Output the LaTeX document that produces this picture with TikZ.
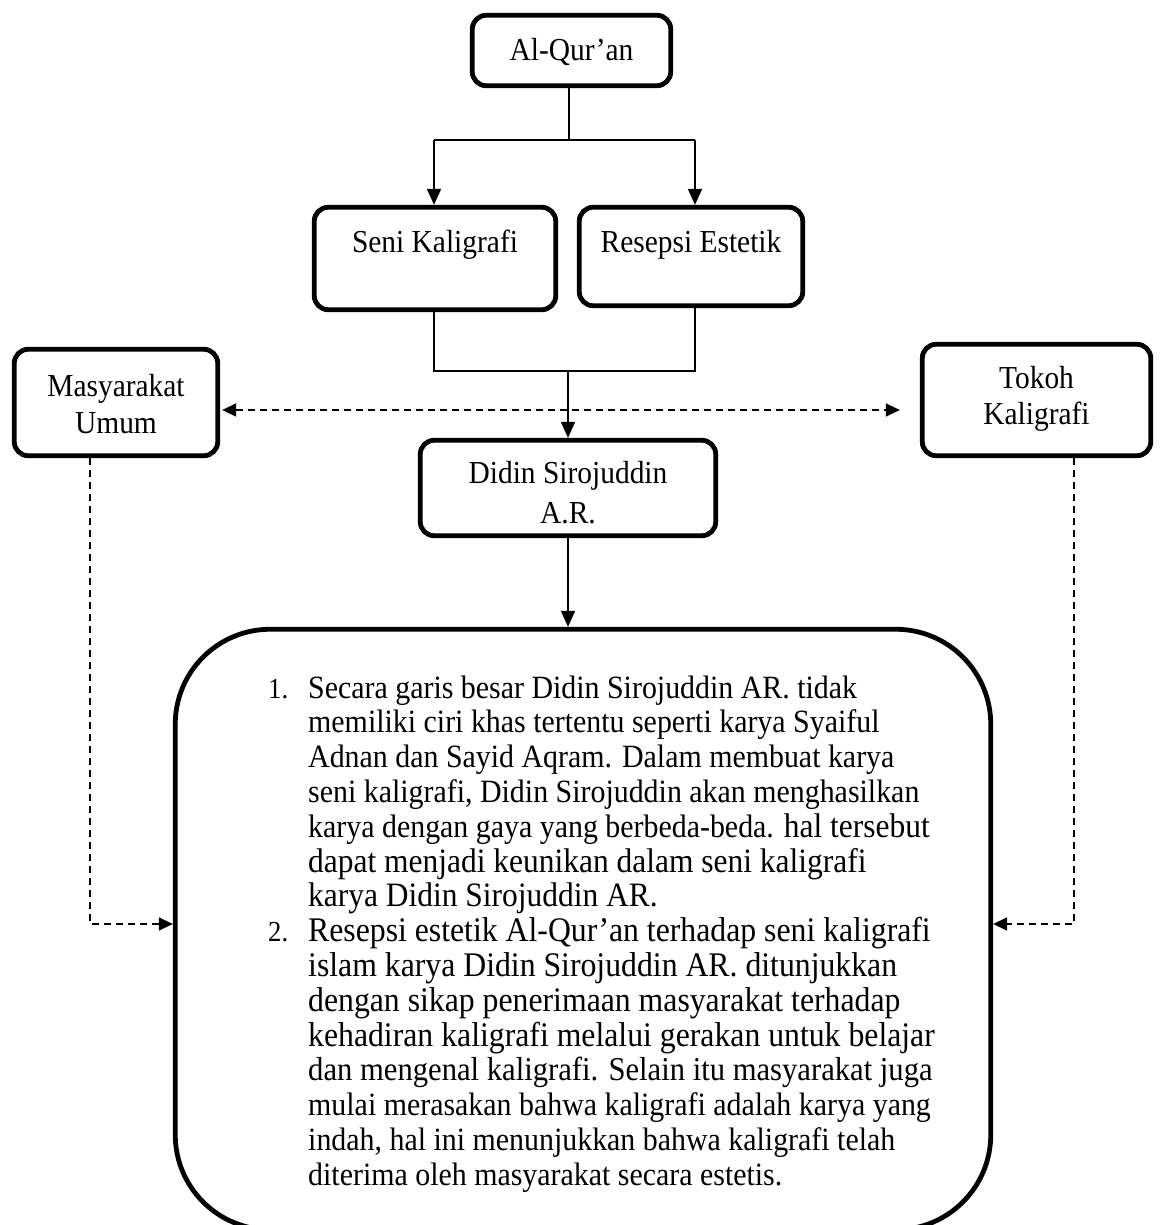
\documentclass[tikz,border=0pt]{standalone}
\usepackage{fontspec}
\setmainfont{Liberation Serif}[FakeStretch=0.92]
\usetikzlibrary{arrows.meta,calc}
\newcommand\boxfont{\fontsize{32}{37}\selectfont}
\newcommand\listfont{\fontsize{32.5}{34.8}\selectfont}
\newcommand\wider{\fontsize{34.5}{34.8}\selectfont}
\newcommand\widish{\fontsize{33.3}{34.8}\selectfont}
\newcommand\bigger{\fontsize{34.2}{34.8}\selectfont}
\newcommand\numfont{\fontsize{29}{34.8}\selectfont}
% strut with height #1 and depth #2 (in pt)
\newcommand\ls[2]{\rule[-#2pt]{0pt}{\dimexpr#1pt+#2pt\relax}}
\begin{document}
\begin{tikzpicture}[x=1pt,y=-1pt,
  box/.style={draw, line width=4.8pt, rounded corners=14pt, align=center,
    font=\boxfont, inner sep=0pt},
  conn/.style={line width=1.8pt},
  arr/.style={conn, -{Triangle[length=16pt,width=14pt]}},
  darr/.style={line width=1.6pt, dash pattern=on 7pt off 5pt,
    -{Triangle[length=14pt,width=13pt]}},
  bdarr/.style={line width=1.6pt, dash pattern=on 7pt off 5pt,
    {Triangle[length=14pt,width=13pt]}-{Triangle[length=14pt,width=13pt]}},
]
\clip (0,0) rectangle (1162,1225);
\fill[white] (0,0) rectangle (1162,1225);

% boxes
\node[box, minimum width=198.5pt, minimum height=70.5pt] (quran) at (571.5,50.5) {\ls{25}{4}Al-Qur’an};
\node[box, minimum width=241.5pt, minimum height=102.5pt] (seni) at (435,258.5) {\ls{36}{11}Seni Kaligrafi\\\ls{0}{11}};
\node[box, minimum width=223.5pt, minimum height=98.5pt] (resepsi) at (691,256.5) {\ls{40}{11}Resepsi Estetik\\\ls{0}{11}};
\node[box, minimum width=203.5pt, minimum height=106.5pt] (mas) at (116,402.5) {\ls{34}{11}Masyarakat\\Umum\ls{0}{9}};
\node[box, minimum width=228.5pt, minimum height=111.5pt, font=\fontsize{32}{36.5}\selectfont] (tokoh) at (1036.5,400) {\ls{31}{11}Tokoh\\Kaligrafi\ls{0}{18}};
\node[box, minimum width=295.5pt, minimum height=95.5pt, font=\fontsize{32}{40}\selectfont] (didin) at (568,488) {\ls{42}{11}Didin Sirojuddin\\A.R.\ls{0}{12}};
\node[draw, line width=4.8pt, rounded corners=95pt, inner sep=0pt,
  minimum width=815.5pt, minimum height=600.5pt] (big) at (583,929.5) {};

% text inside the big box
\node[anchor=base west, inner sep=0pt, font=\listfont] (list) at (268,698) {%
\begin{tabular}[t]{@{}p{40pt}@{}l@{}}
\numfont 1. & Secara garis besar Didin Sirojuddin AR. tidak\\
 & memiliki ciri khas tertentu seperti karya Syaiful\\
 & Adnan dan Sayid Aqram. Dalam membuat karya\\
 & seni kaligrafi, Didin Sirojuddin akan menghasilkan\\
 & karya dengan gaya yang berbeda-beda. {\bigger hal tersebut}\\
 & {\bigger dapat menjadi keunikan dalam seni kaligrafi}\\
 & {\bigger karya Didin Sirojuddin AR.}\\
\numfont 2. & {\wider Resepsi estetik Al-Qur’an terhadap seni kaligrafi}\\
 & {\wider islam karya Didin Sirojuddin AR. ditunjukkan}\\
 & {\wider dengan sikap penerimaan masyarakat terhadap}\\
 & {\wider kehadiran kaligrafi melalui gerakan untuk belajar}\\
 & {\widish dan mengenal kaligrafi. Selain itu masyarakat juga}\\
 & mulai merasakan bahwa kaligrafi adalah karya yang\\
 & indah, hal ini menunjukkan bahwa kaligrafi telah\\
 & diterima oleh masyarakat secara estetis.
\end{tabular}};

% connectors
\coordinate (split) at (569,140);
\coordinate (sL) at (434,140);
\coordinate (sR) at (695,140);
\draw[conn] (quran.south -| split) -- (split);
\draw[conn] (sL) -- (sR);
\draw[arr] (sL) -- (seni.north -| sL);
\draw[arr] (sR) -- (resepsi.north -| sR);

\coordinate (j) at (568,371);
\draw[conn] (seni.south -| sL) |- (j) -| (resepsi.south -| sR);
\draw[arr] (j) -- (didin.north -| j);

\coordinate (dy) at (0,410);
\draw[bdarr, shorten <=2pt] (mas.east |- dy) -- ($(tokoh.west |- dy)+(-20,0)$);

\draw[arr] (didin.south) -- (big.north -| didin.south);

\coordinate (ml) at (90,924);
\draw[darr] (mas.south -| ml) -- (ml) -- (big.west |- ml);
\coordinate (tr) at (1074,924);
\draw[darr] (tokoh.south -| tr) -- (tr) -- (big.east |- tr);
\end{tikzpicture}
\end{document}
